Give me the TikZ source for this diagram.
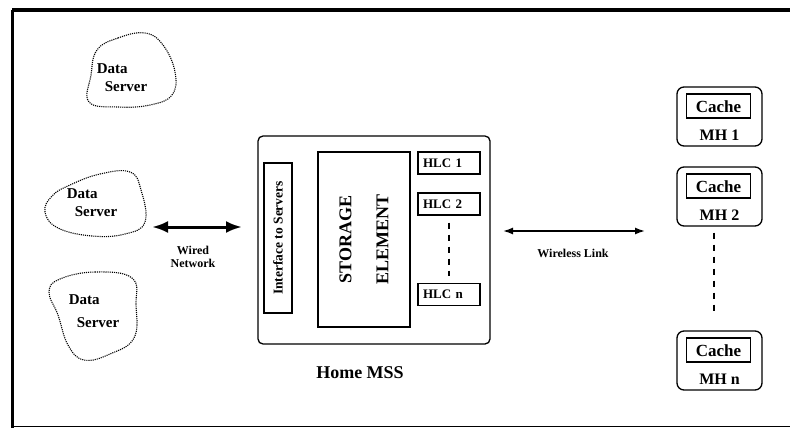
\documentclass[tikz,border=0pt]{standalone}
\usepackage{fontspec}
\setmainfont{Liberation Serif}
\usetikzlibrary{arrows.meta}
\usetikzlibrary{positioning}

\tikzset{
	fs/.style={font=\fontsize{#1}{#1}\selectfont\bfseries},
	server/.style={fs=15, align=left},
	blob/.style={densely dotted, line width=1.1pt},
	hlcbox/.style={draw, line width=1.3pt, minimum width=62pt, minimum height=22pt, inner sep=0pt, text width=52pt, align=left, fs=13},
	mhbox/.style={draw, line width=1.3pt, rounded corners=7pt, minimum width=85pt, minimum height=59pt},
	cachebox/.style={draw, line width=1.8pt, minimum width=64pt, minimum height=24pt, inner sep=0pt, fs=17},
	vdash/.style={line width=1.4pt, dash pattern=on 6pt off 6pt},
}

\begin{document}
\begin{tikzpicture}[x=1pt, y=-1pt]
			\useasboundingbox (0,0) rectangle (790,428);
			% frame
			\draw[line width=4pt] (12,10) -- (790,10);
			\draw[line width=3pt] (12,10) -- (12,428);
			\draw[line width=0.8pt] (12,426.5) -- (790,426.5);
			% data servers
			\node[server] (ds1) at (122,78) {Data\\[3pt]\hspace*{8pt}Server};
			\node[server] (ds2) at (92,203) {Data\\[3pt]\hspace*{8pt}Server};
			\node[server] (ds3) at (94,311) {Data\\[8pt]\hspace*{8pt}Server};
			\draw[blob] plot[smooth cycle, tension=.7] coordinates {(97,50) (118,38) (145,33) (163,45) (175,72) (172,95) (150,105) (118,107) (89,102) (91,75)};
			\draw[blob] plot[smooth cycle, tension=.7] coordinates {(70,185) (100,174) (130,172) (141,190) (145,222) (125,234) (92,236) (58,228) (45,212) (52,196)};
			\draw[blob] plot[smooth cycle, tension=.7] coordinates {(60,279) (95,272) (132,278) (136,305) (134,338) (110,354) (84,360) (68,345) (58,315) (49,292)};
			% home MSS
			\node[draw, line width=1.3pt, rounded corners=5pt, minimum width=232pt, minimum height=208pt] (mss) at (374,240) {};
			\node[fs=18, below=18pt of mss.south, xshift=-14pt] (msslabel) {Home MSS};
			\node[draw, line width=1.6pt, minimum width=28pt, minimum height=150pt] (intf) at (278,238) {};
			\node[fs=13.5, rotate=90] at (intf) {Interface to Servers};
			\node[draw, line width=1.6pt, minimum width=92pt, minimum height=175pt] (store) at (364,239.5) {};
			\node[rotate=90, align=center, font=\fontsize{18}{37}\selectfont\bfseries] at (store) {STORAGE\\ELEMENT};
			\node[hlcbox] (hlc1) at (449,163) {HLC 1};
			\node[hlcbox] (hlc2) at (449,204) {HLC 2};
			\node[hlcbox] (hlcn) at (449,294.5) {HLC n};
			\draw[vdash] ([yshift=-7pt]hlc2.south) -- ([yshift=7pt]hlcn.north);
			% mobile hosts
			\foreach \name/\y/\lab in {mh1/116.5/MH 1, mh2/196.5/MH 2, mhn/360.5/MH n} {
				\node[mhbox] (\name) at (719.5,\y) {};
				\node[cachebox, below=7pt of \name.north, xshift=-1pt] (\name c) {Cache};
				\node[fs=16, above=3pt of \name.south] {\lab};
			}
			\draw[vdash] ([yshift=-6pt]mh2.south -| 714,0) -- ([yshift=19pt]mhn.north -| 714,0);
			% links
			\coordinate (w1) at (152,227);
			\coordinate (w2) at (242,227);
			\draw[line width=3pt, {Latex[length=16pt,width=12pt]}-{Latex[length=16pt,width=12pt]}] (w1) -- (w2);
			\node[fs=12, align=center] at (193,257) {Wired\\[1pt]Network};
			\coordinate (wl1) at (503,231);
			\coordinate (wl2) at (645,231);
			\draw[line width=1.5pt, {Latex[length=10pt,width=7pt]}-{Latex[length=10pt,width=7pt]}] (wl1) -- (wl2);
			\node[fs=12] at (573,253) {Wireless Link};
		\end{tikzpicture}
\end{document}
